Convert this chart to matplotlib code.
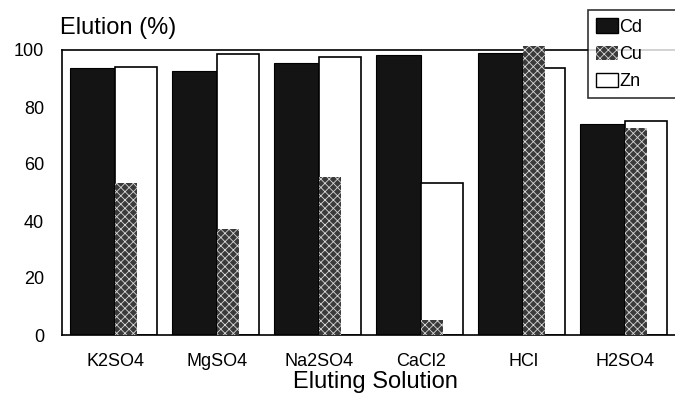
import numpy as np
import matplotlib.pyplot as plt
from matplotlib.patches import Patch

plt.rcParams['font.family'] = ['Liberation Sans', 'DejaVu Sans']
plt.rcParams['hatch.linewidth'] = 0.6

solutions = ['K2SO4', 'MgSO4', 'Na2SO4', 'CaCl2', 'HCl', 'H2SO4']
cd = [93.7, 92.6, 95.4, 98.2, 98.9, 74.2]
cu = [53.3, 37.2, 55.4, 5.3, 101.5, 72.6]
zn = [94.0, 98.5, 97.5, 53.3, 93.7, 75.0]
series = ['Cd', 'Cu', 'Zn']

x = np.arange(len(solutions))

fig = plt.figure(figsize=(6.75, 4.07), dpi=100)
ax = fig.add_axes([62/675, 1 - 335/407, 613/675, 285/407])

# Cd: dark block to the left of the category centre
ax.bar(x - 0.44, cd, width=0.44, align='edge', color='#141414',
       edgecolor='black', linewidth=0.8, zorder=2)
# Zn: open bar to the right
ax.bar(x, zn, width=0.41, align='edge', color='white',
       edgecolor='black', linewidth=1.2, zorder=2)
# Cu: narrow speckled bar drawn over the left part of Zn
ax.bar(x, cu, width=0.215, align='edge', color='#3a3a3a',
       linewidth=0, zorder=3, clip_on=False)
ax.bar(x, cu, width=0.215, align='edge', fill=False, hatch='xxxx',
       edgecolor='#d8d8d8', linewidth=0, zorder=4, clip_on=False)

ax.set_xlim(-0.52, 5.49)
ax.set_ylim(0, 100)
ax.set_yticks(range(0, 101, 20))
ax.set_xticks(x)
ax.set_xticklabels(solutions, fontsize=13.5)
ax.tick_params(length=0, labelsize=13)
ax.tick_params(axis='y', pad=13)
ax.tick_params(axis='x', pad=13)
ax.spines['right'].set_visible(False)
for s in ['left', 'top', 'bottom']:
    ax.spines[s].set_linewidth(1.2)

fig.text(60/675, 1 - 28/407, 'Elution (%)', fontsize=17, va='center', ha='left')
fig.text(375/675, 1 - 382/407, 'Eluting Solution', fontsize=17, va='center', ha='center')

handles = [
    Patch(facecolor='#141414', edgecolor='black'),
    Patch(facecolor='#3a3a3a', edgecolor='#d8d8d8', hatch='xxxx', linewidth=0),
    Patch(facecolor='white', edgecolor='black', linewidth=1.0),
]
leg = fig.legend(handles, series, loc='upper left',
                 bbox_to_anchor=(588/675, 1 - 10/407, 130/675, 0), mode='expand',
                 fontsize=13, frameon=True, fancybox=False, handlelength=1.2,
                 handleheight=0.85, handletextpad=0.1, labelspacing=0.55,
                 borderpad=0.45, borderaxespad=0)
leg.get_frame().set_edgecolor('black')
leg.get_frame().set_linewidth(1.2)
leg.set_zorder(10)

fig.savefig('out.png', dpi=100)
